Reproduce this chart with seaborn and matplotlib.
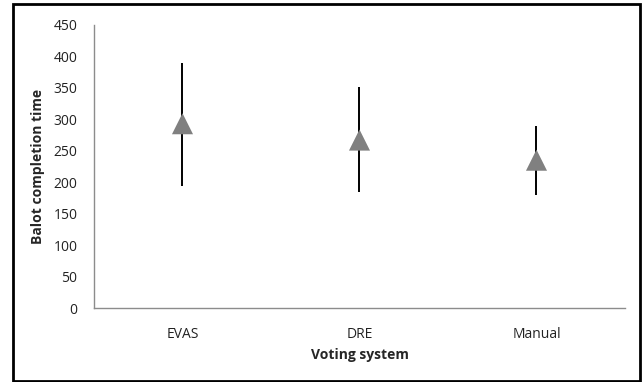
import matplotlib
matplotlib.use("Agg")
import matplotlib.pyplot as plt
from matplotlib.patches import Rectangle
import seaborn as sns
import pandas as pd

sns.set_theme(style="white")
plt.rcParams["font.family"] = ["Open Sans", "DejaVu Sans"]

systems = ["EVAS", "DRE", "Manual"]
mean_time = [293, 267, 235]
low_time = [194, 184, 180]
high_time = [390, 352, 290]

df = pd.DataFrame({"system": systems, "mean": mean_time, "low": low_time, "high": high_time})
df["pos"] = range(len(df))

fig = plt.figure(figsize=(6.42, 3.82), dpi=100)
ax = fig.add_axes([0.1464, 0.1937, 0.8271, 0.7409])

ax.vlines(df["pos"], df["low"], df["high"], color="black", linewidth=1.4, zorder=2)
sns.scatterplot(data=df, x="pos", y="mean", marker="^", s=230, color="#808080",
                edgecolor="none", ax=ax, zorder=3)

ax.set_xlim(-0.5, 2.5)
ax.set_ylim(0, 450)
ax.set_yticks(range(0, 451, 50))
ax.set_xticks(df["pos"])
ax.set_xticklabels(systems)
ax.tick_params(axis="both", length=0, labelsize=10, colors="#222222")
ax.tick_params(axis="y", pad=12)
ax.tick_params(axis="x", pad=14)

for side in ["top", "right"]:
    ax.spines[side].set_visible(False)
for side in ["left", "bottom"]:
    ax.spines[side].set_color("#8c8c8c")
    ax.spines[side].set_linewidth(1.0)

ax.set_xlabel("Voting system", fontsize=10, fontweight="bold", labelpad=4)
ax.set_ylabel("Balot completion time", fontsize=10, fontweight="bold", labelpad=6)

fig.patches.append(Rectangle((13 / 642, 1 / 382), 627 / 642, 377 / 382,
                             transform=fig.transFigure, fill=False,
                             edgecolor="black", linewidth=2))

plt.savefig("out.png", dpi=100)
plt.close()
